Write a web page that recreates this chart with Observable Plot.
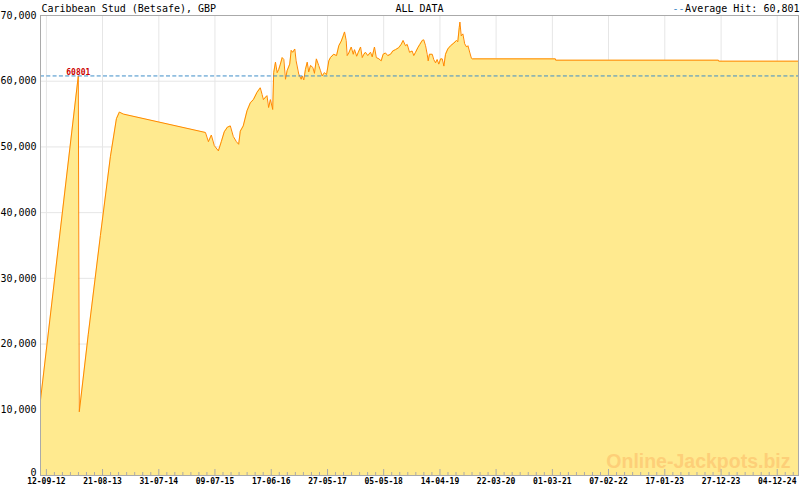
<!DOCTYPE html>
<html><head><meta charset="utf-8">
<script src="https://cdn.jsdelivr.net/npm/d3@7"></script>
<script src="https://cdn.jsdelivr.net/npm/@observablehq/plot@0.6"></script>
<style>body{margin:0;background:#fff;} #chart svg{display:block;}</style>
</head><body><div id="chart"></div>
<script>
const title = "Caribbean Stud (Betsafe), GBP";
const rangeLabel = "ALL DATA";
const averageLabel = "Average Hit: 60,801";
const averageHit = 60801;
const averageText = "60801";
const watermark = "Online-Jackpots.biz";
const xTickLabels = ["12-09-12","21-08-13","31-07-14","09-07-15","17-06-16","27-05-17","05-05-18","14-04-19","22-03-20","01-03-21","07-02-22","17-01-23","27-12-23","04-12-24"];
const yTicks = [0,10000,20000,30000,40000,50000,60000,70000];
const xDomain = ["2012-08-07","2025-04-13"];

const dates = [
"2012-08-07","2013-03-26","2013-04-01","2013-05-26","2013-08-08","2013-10-08","2013-11-14","2013-12-02","2013-12-26",
"2015-05-12","2015-05-30","2015-06-17","2015-07-05","2015-07-30","2015-08-17","2015-09-04","2015-09-23","2015-10-11","2015-10-29",
"2015-11-17","2015-12-01","2015-12-11","2015-12-29","2016-01-21","2016-02-10","2016-02-29","2016-03-22","2016-04-11","2016-04-22",
"2016-04-30","2016-05-22","2016-06-01","2016-06-12","2016-06-26","2016-07-02","2016-07-13","2016-07-23","2016-08-02","2016-08-12",
"2016-08-23","2016-09-02","2016-09-12","2016-09-22","2016-10-08","2016-10-17","2016-10-26","2016-11-08","2016-11-16","2016-12-02",
"2016-12-17","2016-12-23","2017-01-02","2017-01-12","2017-01-23","2017-02-01","2017-02-12","2017-02-26","2017-03-08","2017-03-20",
"2017-04-03","2017-04-14","2017-04-24","2017-05-08","2017-05-21","2017-06-04","2017-06-14","2017-07-04","2017-07-21","2017-08-04",
"2017-08-19","2017-08-31","2017-09-08","2017-09-18","2017-09-24","2017-10-04","2017-10-19","2017-10-31","2017-11-08","2017-11-21",
"2017-12-01","2017-12-15","2017-12-25","2018-01-04","2018-01-14","2018-01-28","2018-02-14","2018-02-24","2018-03-10","2018-03-21",
"2018-04-06","2018-04-20","2018-05-02","2018-05-16","2018-05-30","2018-06-16","2018-06-30","2018-07-16","2018-08-05","2018-08-20",
"2018-09-01","2018-09-15","2018-09-26","2018-10-10","2018-10-26","2018-11-05","2018-11-16","2018-11-30","2018-12-12","2018-12-27",
"2019-01-05","2019-01-16","2019-01-26","2019-02-01","2019-02-09","2019-02-26","2019-03-07","2019-03-18","2019-03-28","2019-04-07",
"2019-04-18","2019-04-28","2019-05-08","2019-05-18","2019-06-01","2019-06-18","2019-07-08","2019-07-24","2019-08-01","2019-08-10",
"2019-08-14","2019-08-22","2019-09-01","2019-09-12","2019-09-24","2019-10-02","2019-10-14","2019-10-23","2019-10-28","2021-03-20",
"2021-03-21","2023-12-11","2023-12-12","2025-04-13"];
const values = [
11500,60800,9700,21500,36500,48500,54300,55300,55000,
52200,50800,51800,50200,49400,50800,52300,53000,53200,51600,
50800,50400,52400,53200,55500,56700,57200,58300,59000,58000,
57200,57800,56000,57200,55700,61300,62900,61300,61800,62600,
63600,63300,60300,61600,62600,64700,64400,64900,63100,61100,
60300,60800,60200,61800,62900,61400,62400,62100,61200,63400,
62400,61600,60800,61300,61000,63100,63600,64100,63900,65400,
66100,66900,67500,66200,63900,64300,65200,64100,64800,63800,
64400,65200,63600,64100,64400,63900,64400,63700,65200,63600,
63400,63100,64100,64300,63900,64100,64600,64800,65100,65600,
66200,65400,65600,64400,64600,63900,64400,65100,65600,66200,
66300,65400,64100,63100,64100,64100,63300,62800,63300,62600,
63400,63400,62300,64100,64900,65400,65800,66200,66000,68200,
69000,66900,67200,65700,65200,65400,64300,63500,63400,63400,
63200,63200,63050,63050];

const W = 800, H = 490, mT = 15, mB = 15, mL = 40, mR = 2;
const innerH = H - mT - mB;
const parseISO = d3.utcParse("%Y-%m-%d");
const parseTick = d3.utcParse("%d-%m-%y");
const data = dates.map((d, i) => ({date: parseISO(d), value: values[i]}));
const tickDates = xTickLabels.map(parseTick);
const domain = xDomain.map(parseISO);
const minor = [];
for (let i = 0; i < tickDates.length; i++) {
  const a = tickDates[i];
  const b = tickDates[i + 1] ?? new Date(+a + (a - tickDates[i - 1]));
  for (let k = 1; k < 7; k++) {
    const t = new Date(+a + (b - a) * k / 7);
    if (t < domain[1]) minor.push(t);
  }
}
const labelPoint = data.find(d => d.value >= averageHit * 0.99);
const mono = "DejaVu Sans Mono, monospace";
const blue = "#3e8ec8";
const fmt = d3.format(",");

const chart = Plot.plot({
  width: W, height: H,
  marginTop: mT, marginBottom: mB, marginLeft: mL, marginRight: mR,
  style: {fontFamily: mono, background: "#fff", color: "#000"},
  x: {type: "utc", domain, axis: null, label: null},
  y: {domain: [0, 70000], axis: null, label: null},
  marks: [
    Plot.ruleY(yTicks, {stroke: "#e6e6e6"}),
    Plot.ruleX(tickDates, {stroke: "#e6e6e6"}),
    Plot.areaY(data, {x: "date", y: "value", fill: "#ffea8f"}),
    Plot.lineY(data, {x: "date", y: "value", stroke: "#ff8800", strokeWidth: 1}),
    Plot.ruleY([averageHit], {stroke: blue, strokeDasharray: "4,2.3"}),
    Plot.text([labelPoint], {x: "date", y: () => averageHit, text: () => averageText, fill: "#cc0000", fontSize: 8, fontWeight: "bold", lineAnchor: "bottom", dy: -1}),
    Plot.text([watermark], {frameAnchor: "bottom-right", dx: -8, dy: -8, lineAnchor: "bottom", textAnchor: "end", fill: "#fdcf78", fontSize: 19.5, fontWeight: "bold", fontFamily: "Liberation Sans, Arial, sans-serif"}),
    Plot.ruleX(tickDates, {stroke: "#aaa", insetTop: innerH - 6}),
    Plot.ruleX(minor, {stroke: "#aaa", insetTop: innerH - 3}),
    Plot.frame({stroke: "#aaa"}),
    Plot.axisY(yTicks.filter(v => v > 0), {tickSize: 0, tickPadding: 4, fontSize: 10, tickFormat: fmt, fontFamily: mono, label: null}),
    Plot.axisY([0], {tickSize: 0, tickPadding: 4, fontSize: 10, tickFormat: fmt, fontFamily: mono, label: null, dy: -3}),
    Plot.axisX(tickDates, {tickSize: 0, tickPadding: 3, fontSize: 8, fontWeight: "bold", tickFormat: (d, i) => xTickLabels[i], fontFamily: mono, label: null}),
    Plot.text([title], {frameAnchor: "top-left", textAnchor: "start", lineAnchor: "bottom", dx: 1, dy: -4, fontSize: 10, fontFamily: mono}),
    Plot.text([rangeLabel], {frameAnchor: "top", lineAnchor: "bottom", dy: -4, fontSize: 10, fontFamily: mono}),
    Plot.text([averageLabel], {frameAnchor: "top-right", textAnchor: "end", lineAnchor: "bottom", dx: 1, dy: -4, fontSize: 10, fontFamily: mono}),
    Plot.text(["--"], {frameAnchor: "top-right", textAnchor: "end", lineAnchor: "bottom", dx: -114, dy: -4, fontSize: 10, fill: blue, fontFamily: mono})
  ]
});
document.getElementById("chart").appendChild(chart);
</script></body></html>
